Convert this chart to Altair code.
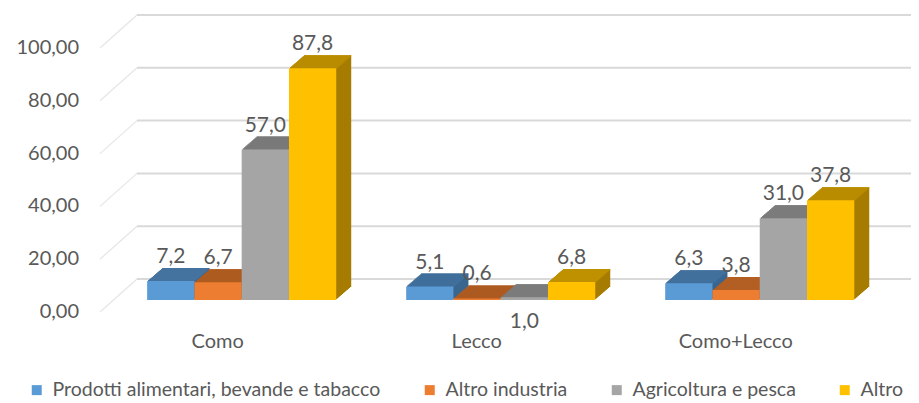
import altair as alt
import pandas as pd

# ---------------- data ----------------
categories = ["Como", "Lecco", "Como+Lecco"]
series = [
    "Prodotti alimentari, bevande e tabacco",
    "Altro industria",
    "Agricoltura e pesca",
    "Altro",
]
values_prodotti = [7.2, 5.1, 6.3]
values_altro_ind = [6.7, 0.6, 3.8]
values_agricoltura = [57.0, 1.0, 31.0]
values_altro = [87.8, 6.8, 37.8]
labels_below = [("Lecco", "Agricoltura e pesca")]
y_ticks = [0, 20, 40, 60, 80, 100]

# ---------------- style ----------------
front_colors = ["#5B9BD5", "#ED7D31", "#A5A5A5", "#FFC000"]
top_colors = ["#4473A0", "#B35E22", "#7F7F7F", "#BF9000"]
side_colors = ["#3A6690", "#9E521D", "#6F6F6F", "#A67C00"]
TEXT = "#595959"
FONT = "Lato"
GRID = "#D9D9D9"

GROUP = 0.73          # group width in category units
BW = GROUP / 4        # bar width
DEPTH_X = 15          # px
DEPTH_Y = 13          # px
N = 13                # depth slices

all_values = [values_prodotti, values_altro_ind, values_agricoltura, values_altro]
rows = []
for si, s in enumerate(series):
    for ci, c in enumerate(categories):
        rows.append(
            dict(
                category=c,
                cat_idx=ci,
                series=s,
                ser_idx=si,
                value=all_values[si][ci],
                below=(c, s) in labels_below,
                top=top_colors[si],
                side=side_colors[si],
                zero=0,
            )
        )
df = pd.DataFrame(rows)
ticks_df = pd.DataFrame({"tick": y_ticks})
cats_df = pd.DataFrame({"category": categories, "cat_idx": list(range(len(categories))), "zero": 0})

xscale = alt.Scale(domain=[-0.547, 2.584], nice=False, zero=False)
yscale = alt.Scale(domain=[0, 100], nice=False)

base = alt.Chart(df).transform_calculate(
    left=f"datum.cat_idx - {GROUP / 2} + datum.ser_idx * {BW}",
    right=f"datum.cat_idx - {GROUP / 2} + (datum.ser_idx + 1) * {BW}",
    center=f"datum.cat_idx - {GROUP / 2} + (datum.ser_idx + 0.5) * {BW}",
    label="replace(format(datum.value, '.1f'), '.', ',')",
)

layers = []

# side-wall diagonals and back-wall grid lines
layers.append(
    alt.Chart(ticks_df)
    .mark_rule(color="#E6E6E6", strokeWidth=1.2, yOffset=12, y2Offset=-21)
    .encode(
        x=alt.value(0),
        x2=alt.value(37),
        y=alt.Y("tick:Q", scale=yscale, axis=None),
        y2="tick:Q",
    )
)
layers.append(
    alt.Chart(ticks_df)
    .mark_rule(color=GRID, strokeWidth=2, yOffset=-21)
    .encode(
        x=alt.value(37),
        x2=alt.value(811),
        y=alt.Y("tick:Q", scale=yscale, axis=None),
    )
)

# y axis labels (front edge of the side wall)
layers.append(
    alt.Chart(ticks_df)
    .transform_calculate(lab="replace(format(datum.tick, '.2f'), '.', ',')")
    .mark_text(align="right", baseline="middle", dy=12, font=FONT, fontSize=20, color=TEXT)
    .encode(
        x=alt.value(-21),
        y=alt.Y("tick:Q", scale=yscale, axis=None),
        text="lab:N",
    )
)

# category labels
layers.append(
    alt.Chart(cats_df)
    .mark_text(align="center", baseline="middle", dx=-24, dy=42, font=FONT, fontSize=20, color=TEXT)
    .encode(
        x=alt.X("cat_idx:Q", scale=xscale, axis=None),
        y=alt.Y("zero:Q", scale=yscale, axis=None),
        text="category:N",
    )
)

dx = DEPTH_X / N
dy = DEPTH_Y / N
for i in range(N, 0, -1):
    layers.append(
        base.mark_bar(
            xOffset=i * dx, x2Offset=i * dx, yOffset=-i * dy, y2Offset=-i * dy
        ).encode(
            x=alt.X("left:Q", scale=xscale, axis=None),
            x2="right:Q",
            y=alt.Y("value:Q", scale=yscale, axis=None),
            y2="zero:Q",
            color=alt.Color("side:N", scale=None),
        )
    )
    layers.append(
        base.mark_bar(
            xOffset=i * dx,
            x2Offset=i * dx,
            yOffset=-i * dy,
            y2Offset=-(i - 1) * dy + 0.3,
        ).encode(
            x=alt.X("left:Q", scale=xscale, axis=None),
            x2="right:Q",
            y=alt.Y("value:Q", scale=yscale, axis=None),
            y2="value:Q",
            color=alt.Color("top:N", scale=None),
        )
    )

front = base.mark_bar().encode(
    x=alt.X("left:Q", scale=xscale, axis=None),
    x2="right:Q",
    y=alt.Y("value:Q", scale=yscale, axis=None),
    y2="zero:Q",
    color=alt.Color(
        "series:N",
        scale=alt.Scale(domain=series, range=front_colors),
        legend=alt.Legend(
            orient="none",
            legendX=-73,
            legendY=344,
            direction="horizontal",
            columns=4,
            title=None,
            symbolType="square",
            symbolSize=100,
            symbolStrokeWidth=0,
            labelFont=FONT,
            labelFontSize=19.5,
            labelColor=TEXT,
            labelLimit=0,
            labelOffset=6,
            columnPadding=39,
        ),
    ),
)
layers.append(front)

layers.append(
    base.transform_filter("!datum.below")
    .mark_text(dy=-24, font=FONT, fontSize=21, color=TEXT)
    .encode(
        x=alt.X("center:Q", scale=xscale, axis=None),
        y=alt.Y("value:Q", scale=yscale, axis=None),
        text="label:N",
    )
)
layers.append(
    base.transform_filter("datum.below")
    .mark_text(dy=22, font=FONT, fontSize=21, color=TEXT)
    .encode(
        x=alt.X("center:Q", scale=xscale, axis=None),
        y=alt.Y("zero:Q", scale=yscale, axis=None),
        text="label:N",
    )
)

chart = (
    alt.layer(*layers)
    .properties(
        width=811,
        height=264,
        autosize=alt.AutoSizeParams(type="none"),
        padding={"left": 92, "top": 28, "right": 0, "bottom": 100},
    )
    .configure_view(stroke=None)
)

chart.save("out.html", embed_options={"renderer": "svg", "actions": False})
